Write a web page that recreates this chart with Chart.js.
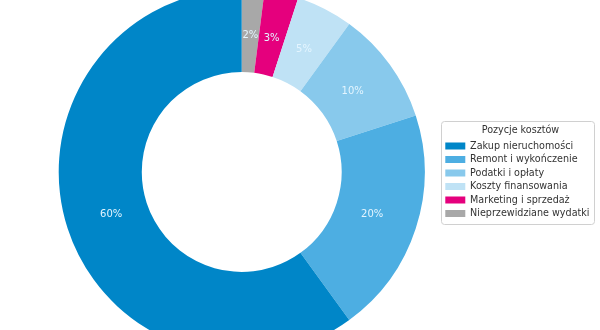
<!DOCTYPE html>
<html>
<head>
<meta charset="utf-8">
<script src="https://cdn.jsdelivr.net/npm/chart.js@4.4.1/dist/chart.umd.min.js"></script>
<style>
html,body{margin:0;padding:0;background:#fff;}
#wrap{width:600px;height:330px;}
</style>
</head>
<body>
<div id="wrap"><canvas id="costChart" width="600" height="330"></canvas></div>
<script>
// legend order (as in the picture)
const categories = ["Zakup nieruchomości", "Remont i wykończenie", "Podatki i opłaty", "Koszty finansowania", "Marketing i sprzedaż", "Nieprzewidziane wydatki"];
const shares = [60, 20, 10, 5, 3, 2];
const colors = ["#0086c8", "#4daee2", "#88c9ec", "#bfe2f5", "#e5007d", "#a8a8a8"];

// drawn clockwise from the top starting with the smallest slice
const drawLabels = categories.slice().reverse();
const drawValues = shares.slice().reverse();
const drawColors = colors.slice().reverse();

const font = "'DejaVu Sans', sans-serif";

const pctLabels = {
  id: "pctLabels",
  afterDatasetsDraw(chart){
    const c = chart.ctx;
    const meta = chart.getDatasetMeta(0);
    c.save();
    c.font = "10px " + font;
    c.fillStyle = "#e4f5ff";
    c.textAlign = "center";
    c.textBaseline = "middle";
    meta.data.forEach((arc, i) => {
      const a = (arc.startAngle + arc.endAngle) / 2;
      const r = arc.outerRadius * 0.75;
      c.fillText(drawValues[i] + "%", arc.x + Math.cos(a) * r, arc.y + Math.sin(a) * r);
    });
    c.restore();
  }
};

const legendFrame = {
  id: "legendFrame",
  beforeDraw(chart){
    const lg = chart.legend;
    if(!lg || !lg.legendHitBoxes.length) return;
    const boxes = lg.legendHitBoxes;
    const first = boxes[0], last = boxes[boxes.length - 1];
    const x0 = first.left - 4;
    const x1 = first.left + 149;
    const y0 = first.top - 20;
    const y1 = last.top + last.height + 6;
    const c = chart.ctx;
    c.save();
    c.fillStyle = "#fff";
    c.strokeStyle = "#d0d0d0";
    c.lineWidth = 1;
    c.beginPath();
    c.roundRect(Math.round(x0) + 0.5, Math.round(y0) + 0.5, Math.round(x1 - x0), Math.round(y1 - y0), 3);
    c.fill();
    c.stroke();
    c.restore();
  }
};

new Chart(document.getElementById("costChart"), {
  type: "doughnut",
  data: {
    labels: drawLabels,
    datasets: [{
      data: drawValues,
      backgroundColor: drawColors,
      borderWidth: 0,
      radius: 183,
      cutout: "54.6%",
      clip: false
    }]
  },
  options: {
    responsive: false,
    animation: false,
    layout: {padding: {left: 42, right: 0.5, top: 14, bottom: 0}},
    plugins: {
      tooltip: {enabled: false},
      legend: {
        position: "right",
        reverse: true,
        title: {display: true, text: "Pozycje kosztów", color: "#333", font: {family: font, size: 9.6}, padding: {top: 4, bottom: 0}},
        labels: {
          color: "#333",
          font: {family: font, size: 9.6},
          boxWidth: 20,
          boxHeight: 7,
          padding: 3.9
        }
      }
    }
  },
  plugins: [legendFrame, pctLabels]
});
</script>
</body>
</html>
